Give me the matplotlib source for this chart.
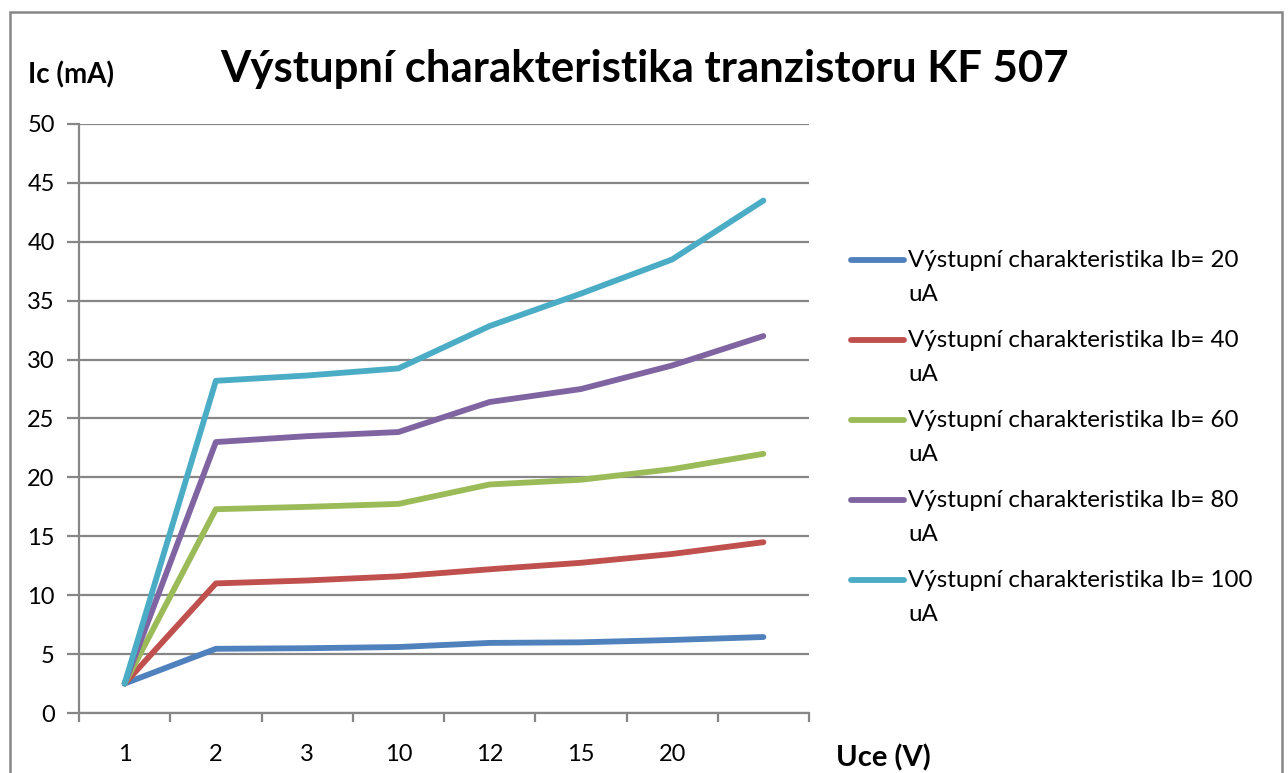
import matplotlib.pyplot as plt
from matplotlib.lines import Line2D
from matplotlib.patches import Rectangle

plt.rcParams["font.family"] = ["Lato", "DejaVu Sans"]

# data
uce_labels = ['1', '2', '3', '10', '12', '15', '20', '']
ib_20 = [2.5, 5.45, 5.5, 5.6, 5.95, 6.0, 6.2, 6.45]
ib_40 = [2.5, 11.0, 11.25, 11.6, 12.2, 12.75, 13.5, 14.5]
ib_60 = [2.5, 17.3, 17.5, 17.75, 19.4, 19.8, 20.7, 22.0]
ib_80 = [2.5, 23.0, 23.5, 23.85, 26.4, 27.5, 29.5, 32.0]
ib_100 = [2.5, 28.2, 28.65, 29.25, 32.85, 35.6, 38.5, 43.5]
series = [ib_20, ib_40, ib_60, ib_80, ib_100]
names = ['Výstupní charakteristika Ib= 20\nuA',
         'Výstupní charakteristika Ib= 40\nuA',
         'Výstupní charakteristika Ib= 60\nuA',
         'Výstupní charakteristika Ib= 80\nuA',
         'Výstupní charakteristika Ib= 100\nuA']
colors = ['#4F81BD', '#C0504D', '#9BBB59', '#8064A2', '#4BACC6']

W, H = 1288, 773
fig = plt.figure(figsize=(W / 100, H / 100), dpi=100)
ax = fig.add_axes([79 / W, 1 - 713 / H, 730 / W, 589 / H])

x = list(range(len(uce_labels)))
for vals, c in zip(series, colors):
    ax.plot(x, vals, color=c, lw=4.2, solid_capstyle='round', solid_joinstyle='round', zorder=3)

grey = '#868686'
ax.set_xlim(-0.5, 7.5)
ax.set_ylim(0, 50)
ax.set_yticks(range(0, 51, 5))
ax.yaxis.grid(True, color=grey, lw=1.6)
ax.set_axisbelow(True)
for s in ['top', 'right']:
    ax.spines[s].set_visible(False)
for s in ['left', 'bottom']:
    ax.spines[s].set_color(grey)
    ax.spines[s].set_linewidth(1.6)
ax.tick_params(axis='y', length=8.5, width=1.6, color=grey, pad=9, labelsize=17)
ax.set_xticks(x)
ax.set_xticklabels(uce_labels)
ax.set_xticks([i - 0.5 for i in range(len(uce_labels) + 1)], minor=True)
ax.tick_params(axis='x', which='major', length=0, pad=22, labelsize=17)
ax.tick_params(axis='x', which='minor', length=6.5, width=1.6, color=grey)

fig.text(645 / W, 1 - 69 / H, 'Výstupní charakteristika tranzistoru KF 507',
         ha='center', va='center', fontsize=31.5, fontweight='bold')
fig.text(28 / W, 1 - 75 / H, 'Ic (mA)', ha='left', va='center', fontsize=20, fontweight='bold')
fig.text(836 / W, 1 - 758 / H, 'Uce (V)', ha='left', va='center', fontsize=21, fontweight='bold')

# legend
for i, (name, c) in enumerate(zip(names, colors)):
    yy = 260 + 80 * i
    fig.add_artist(Line2D([851 / W, 904 / W], [1 - yy / H, 1 - yy / H], color=c, lw=4.2,
                          solid_capstyle='round'))
    fig.text(908 / W, 1 - (yy - 10) / H, name, ha='left', va='top', fontsize=17.4,
             linespacing=1.75, transform=fig.transFigure)

fig.add_artist(Rectangle((10 / W, -0.05), 1272 / W, 1.05 - 12 / H, fill=False,
                         edgecolor=grey, lw=1.8, transform=fig.transFigure))

fig.savefig('out.png', dpi=100)
